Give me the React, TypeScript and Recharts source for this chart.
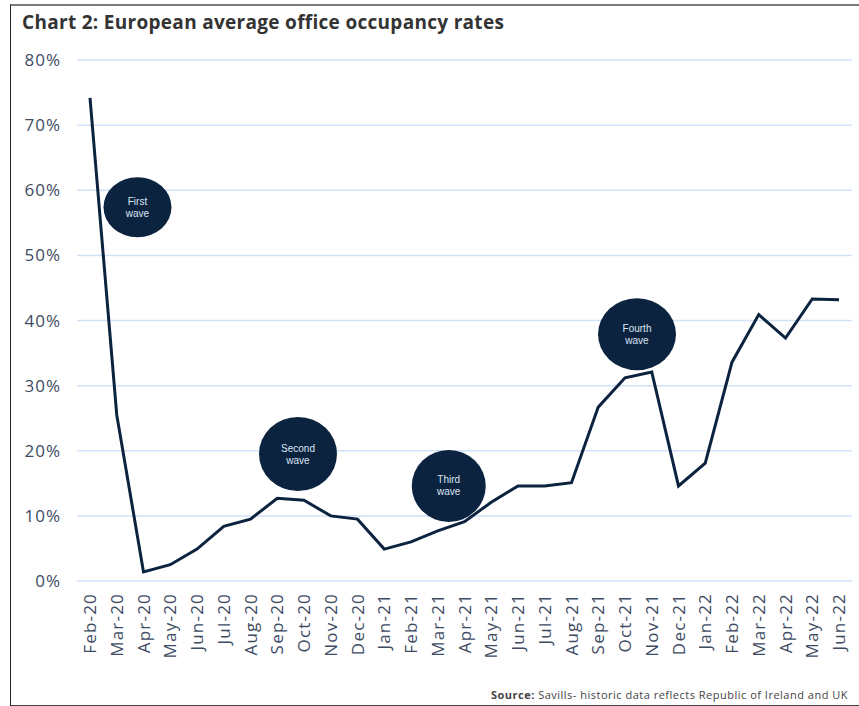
import { LineChart, Line, XAxis, YAxis, CartesianGrid, ReferenceDot } from 'recharts';

// Months along the x axis
const months = [
  'Feb-20', 'Mar-20', 'Apr-20', 'May-20', 'Jun-20', 'Jul-20', 'Aug-20', 'Sep-20', 'Oct-20', 'Nov-20',
  'Dec-20', 'Jan-21', 'Feb-21', 'Mar-21', 'Apr-21', 'May-21', 'Jun-21', 'Jul-21', 'Aug-21', 'Sep-21',
  'Oct-21', 'Nov-21', 'Dec-21', 'Jan-22', 'Feb-22', 'Mar-22', 'Apr-22', 'May-22', 'Jun-22',
];

// Average office occupancy, %
const occupancy = [
  74.2, 25.5, 1.4, 2.5, 4.9, 8.4, 9.5, 12.7, 12.4, 10.0,
  9.5, 4.9, 6.0, 7.7, 9.1, 12.1, 14.6, 14.6, 15.1, 26.7,
  31.2, 32.1, 14.6, 18.1, 33.6, 40.9, 37.3, 43.3, 43.2,
];

const yTicks = [0, 10, 20, 30, 40, 50, 60, 70, 80];

// Wave bubbles: anchored month, level and label lines
const waveMonths = ['Apr-20', 'Oct-20', 'Mar-21', 'Oct-21'];
const waveLevels = [57.4, 19.5, 14.6, 37.9];
const waveLabels = [['First', 'wave'], ['Second', 'wave'], ['Third', 'wave'], ['Fourth', 'wave']];
const waveShift = [-6, -6, 11, 12];
const waveSize = [[34, 30], [39, 37], [37, 36], [39, 36]];

const data = months.map((m, i) => ({ month: m, value: occupancy[i] }));

const NAVY = '#0c2340';
const TICK = '#3d4b63';

const MonthTick = (props: any) => {
  const { x, y, payload } = props;
  return (
    <text
      x={x}
      y={y}
      transform={`rotate(-90, ${x}, ${y})`}
      textAnchor="end"
      dy="0.36em"
      fill={TICK}
      fontSize={17}
      letterSpacing={1.2}
      fontFamily="'Open Sans', sans-serif"
    >
      {payload.value}
    </text>
  );
};

const bubble = (i: number) => (props: any) => {
  const cx = props.cx + waveShift[i];
  const cy = props.cy;
  const [rx, ry] = waveSize[i];
  return (
    <g>
      <ellipse cx={cx} cy={cy} rx={rx} ry={ry} fill={NAVY} />
      <text x={cx} y={cy - 6} textAnchor="middle" dominantBaseline="central" fill="#dce6f4" fontSize={10} fontFamily="'Liberation Sans', Arial, sans-serif">
        {waveLabels[i][0]}
      </text>
      <text x={cx} y={cy + 6} textAnchor="middle" dominantBaseline="central" fill="#dce6f4" fontSize={10} fontFamily="'Liberation Sans', Arial, sans-serif">
        {waveLabels[i][1]}
      </text>
    </g>
  );
};

export default function App() {
  return (
    <div style={{ position: 'relative', width: 859, height: 706, background: '#fff', overflow: 'hidden' }}>
      <style>{'body{margin:0}'}</style>
      <div
        style={{
          position: 'absolute',
          left: 10,
          top: 4,
          width: 849,
          height: 699,
          borderTop: '2px solid #7a7a7a',
          borderLeft: '1px solid #222',
          borderBottom: '1px solid #444',
        }}
      />
      <div
        style={{
          position: 'absolute',
          left: 22,
          top: 9,
          fontFamily: "'Open Sans', sans-serif",
          fontWeight: 700,
          fontSize: 19,
          letterSpacing: 0.3,
          color: '#333',
        }}
      >
        Chart 2: European average office occupancy rates
      </div>
      <div style={{ position: 'absolute', left: 0, top: 0 }}>
        <LineChart width={859} height={706} data={data} margin={{ top: 60, right: 7, bottom: 45, left: 0 }}>
          <CartesianGrid vertical={false} stroke="#cfe2f8" strokeWidth={1.5} />
          <XAxis
            dataKey="month"
            interval={0}
            axisLine={false}
            tickLine={false}
            tickSize={0}
            tickMargin={12}
            height={80}
            padding={{ left: 13, right: 13 }}
            tick={<MonthTick />}
          />
          <YAxis
            domain={[0, 80]}
            ticks={yTicks}
            tickFormatter={(v: number) => `${v}%`}
            axisLine={false}
            tickLine={false}
            tickSize={0}
            tickMargin={16}
            width={77}
            tick={{ fill: TICK, fontSize: 17, letterSpacing: 1, fontFamily: "'Open Sans', sans-serif" }}
          />
          <Line type="linear" dataKey="value" stroke={NAVY} strokeWidth={3} dot={false} isAnimationActive={false} />
          {waveMonths.map((m, i) => (
            <ReferenceDot key={m} x={m} y={waveLevels[i]} ifOverflow="visible" shape={bubble(i)} />
          ))}
        </LineChart>
      </div>
      <div
        style={{
          position: 'absolute',
          right: 11,
          top: 687,
          fontFamily: "'Open Sans', sans-serif",
          fontSize: 11,
          letterSpacing: 0.5,
          color: '#444',
          whiteSpace: 'nowrap',
        }}
      >
        <b>Source:</b> Savills- historic data reflects Republic of Ireland and UK
      </div>
    </div>
  );
}
